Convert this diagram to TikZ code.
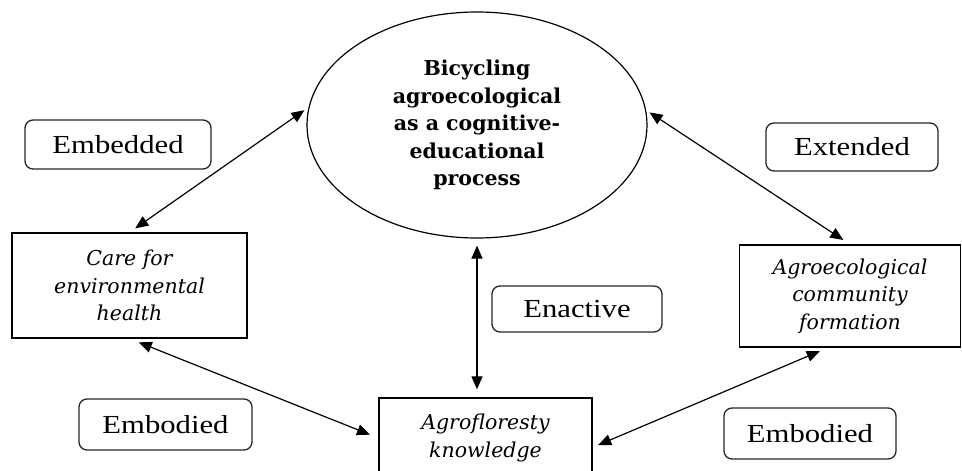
\documentclass[tikz,border=0pt]{standalone}
\usepackage{fontspec}
\usetikzlibrary{arrows.meta,shapes.geometric}
\newfontfamily\labelfont[FakeStretch=1.18]{Liberation Serif}
\newfontfamily\conceptfont{DejaVu Serif}

\begin{document}
\begin{tikzpicture}[x=1pt,y=-1pt,
  labelbox/.style={draw=black!85,line width=1.3pt,rounded corners=8pt,inner sep=0pt,
    minimum width=172pt,minimum height=49pt,font=\labelfont\fontsize{26}{30}\selectfont},
  conceptbox/.style={draw,line width=1.3pt,inner sep=0pt,align=center,
    font=\conceptfont\itshape\fontsize{20.5}{27.5}\selectfont},
  link/.style={line width=1.2pt,{Triangle[length=13pt,width=11pt]}-{Triangle[length=13pt,width=11pt]}}]
\useasboundingbox (0,0) rectangle (962,471);
\node[ellipse,draw,line width=1.2pt,minimum width=340pt,minimum height=226pt,inner sep=0pt,
  align=center,font=\conceptfont\bfseries\fontsize{20.5}{27.5}\selectfont] (circ) at (477,125)
  {Bicycling\\agroecological\\as a cognitive-\\educational\\process};
\node[labelbox,minimum width=186pt] (embedded) at (118,144.5) {Embedded};
\node[labelbox,minimum height=48pt] (extended) at (852,147) {Extended};
\node[labelbox,minimum width=170pt,minimum height=46pt] (enactive) at (577,309) {Enactive};
\node[labelbox,minimum width=173pt,minimum height=51pt] (embodiedL) at (165.5,424.5) {Embodied};
\node[labelbox,minimum height=51pt] (embodiedR) at (810,433.5) {Embodied};
\node[conceptbox,minimum width=235pt,minimum height=105pt] (care) at (129.5,285.5)
  {Care for\\environmental\\health};
\node[conceptbox,minimum width=221pt,minimum height=102pt] (community) at (850,296)
  {Agroecological\\community\\formation};
\node[conceptbox,minimum width=213pt,minimum height=80pt] (agro) at (485.5,438)
  {Agrofloresty\\knowledge};
\draw[link,shorten <=7pt,shorten >=5pt] (care.north) -- (circ.174);
\draw[link,shorten <=4pt,shorten >=8pt] (circ.5) -- (community.north);
\draw[link,shorten <=7pt,shorten >=8pt] (circ.south) -- (circ.south |- agro.north);
\draw[link,shorten <=10pt,shorten >=9pt] (care.south) -- (agro.west);
\draw[link,shorten <=6pt,shorten >=9pt] (agro.-5) -- (community.-113);
\end{tikzpicture}
\end{document}
